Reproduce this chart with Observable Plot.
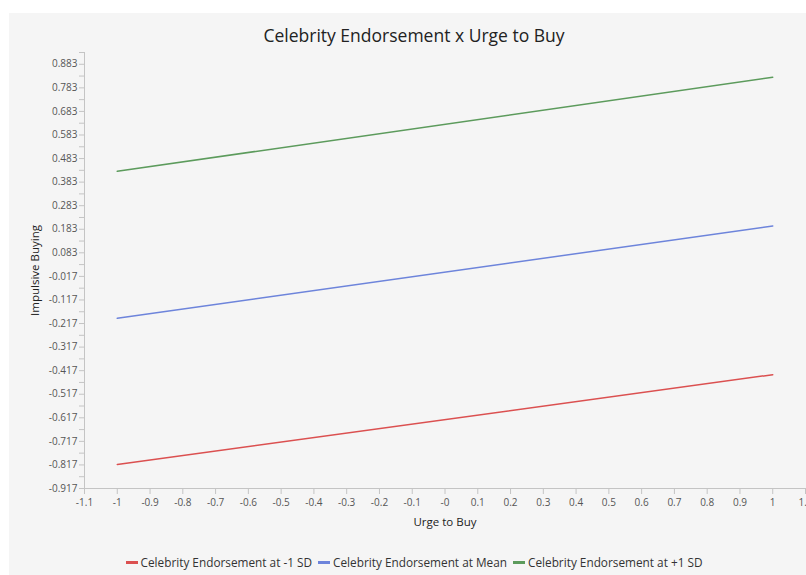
<!DOCTYPE html>
<html>
<head>
<meta charset="utf-8">
<script src="https://cdn.jsdelivr.net/npm/d3@7"></script>
<script src="https://cdn.jsdelivr.net/npm/@observablehq/plot@0.6"></script>
<style>
  html, body { margin: 0; padding: 0; background: #ffffff; }
  body { width: 806px; height: 575px; position: relative; overflow: hidden; font-family: "Open Sans", "Noto Sans", sans-serif; }
  #panel { position: absolute; left: 9px; top: 13px; width: 797px; height: 562px; background: #f5f5f5; }
  #title { position: absolute; left: 0; width: 810px; top: 10px; text-align: center; font-size: 17.5px; color: #222; }
  #chart { position: absolute; left: 0; top: 0; }
  #legend { position: absolute; left: 0; width: 810px; top: 541px; text-align: center; font-size: 11.8px; color: #333; white-space: nowrap; }
  .item { display: inline-block; margin: 0 3px; }
  .sw { display: inline-block; width: 12px; height: 3px; vertical-align: middle; margin-right: 3px; position: relative; top: -1px; }
</style>
</head>
<body>
<div id="panel">
  <div id="title">Celebrity Endorsement x Urge to Buy</div>
  <div id="chart"></div>
  <div id="legend"></div>
</div>
<script>
// Data
const series = ["Celebrity Endorsement at -1 SD", "Celebrity Endorsement at Mean", "Celebrity Endorsement at +1 SD"];
const colors = ["#db5050", "#6d84db", "#5c9b5c"];
const urgeToBuy = [-1, 1];
const lowSD = [-0.815, -0.434];
const meanSD = [-0.195, 0.197];
const highSD = [0.429, 0.828];
const xTickLabels = ["-1.1","-1","-0.9","-0.8","-0.7","-0.6","-0.5","-0.4","-0.3","-0.2","-0.1","-0","0.1","0.2","0.3","0.4","0.5","0.6","0.7","0.8","0.9","1","1.1"];
const yTickLabels = ["0.883","0.783","0.683","0.583","0.483","0.383","0.283","0.183","0.083","-0.017","-0.117","-0.217","-0.317","-0.417","-0.517","-0.617","-0.717","-0.817","-0.917"];

const values = [lowSD, meanSD, highSD];
const rows = [];
series.forEach((s, i) => urgeToBuy.forEach((x, j) => rows.push({series: s, x, y: values[i][j]})));

const xTicks = xTickLabels.map(Number);
const yTicks = yTickLabels.map(Number);
const yMinor = yTicks.map(v => +(v + 0.05).toFixed(3));
const xDomain = [xTicks[0], xTicks[xTicks.length - 1]];
const yDomain = [yTicks[yTicks.length - 1], yMinor[0]];

const axisColor = "#c4c4c4";
const chart = Plot.plot({
  width: 797,
  height: 522,
  marginLeft: 75,
  marginRight: 1,
  marginTop: 39,
  marginBottom: 47,
  style: { background: "transparent", fontFamily: "'Open Sans', 'Noto Sans', sans-serif", fontSize: "10px", color: "#555", overflow: "visible" },
  x: { domain: xDomain, label: null },
  y: { domain: yDomain, label: null },
  color: { domain: series, range: colors },
  marks: [
    Plot.ruleX([xDomain[0]], { stroke: axisColor }),
    Plot.ruleY([yDomain[0]], { stroke: axisColor }),
    Plot.axisY(yMinor, { tickSize: 5, stroke: axisColor, text: null, label: null }),
    Plot.axisY(yTicks, { tickSize: 5, stroke: axisColor, tickPadding: 2, fill: "#555",
      tickFormat: d => yTickLabels[yTicks.indexOf(d)],
      label: "Impulsive Buying", labelAnchor: "center", labelOffset: 54 }),
    Plot.axisX(xTicks, { tickSize: 6, stroke: axisColor, tickPadding: 4, fill: "#555",
      tickFormat: d => xTickLabels[xTicks.indexOf(d)],
      label: "Urge to Buy", labelAnchor: "center", labelOffset: 37 }),
    Plot.line(rows, { x: "x", y: "y", z: "series", stroke: "series", strokeWidth: 1.5 })
  ]
});
chart.querySelectorAll("[aria-label='y-axis label'] text, [aria-label='x-axis label'] text").forEach(t => {
  t.textContent = t.textContent.replace(/\s*[→↑←↓]\s*/g, "").trim();
  t.setAttribute("fill", "#222"); t.style.fontSize = "11.5px"; t.style.fontWeight = "500";
});
document.getElementById("chart").appendChild(chart);

const legend = document.getElementById("legend");
series.forEach((s, i) => {
  const item = document.createElement("span");
  item.className = "item";
  const sw = document.createElement("span");
  sw.className = "sw";
  sw.style.background = colors[i];
  item.appendChild(sw);
  item.appendChild(document.createTextNode(s));
  legend.appendChild(item);
});
</script>
</body>
</html>
